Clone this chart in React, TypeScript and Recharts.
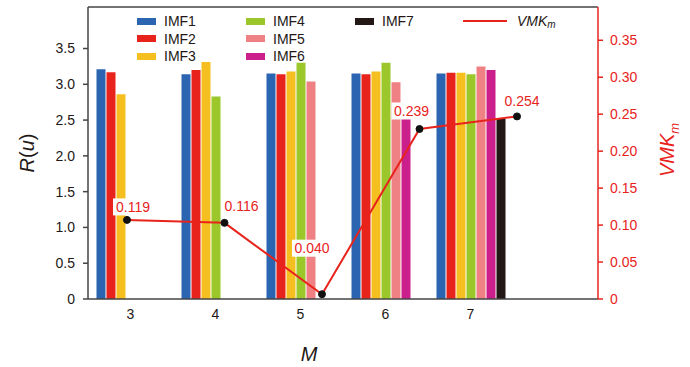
import React from "react";
import {
  ComposedChart,
  Bar,
  Line,
  XAxis,
  YAxis,
  Legend,
  LabelList,
  Label,
  ReferenceLine,
} from "recharts";

const categories = ["3", "4", "5", "6", "7"];
const imf1 = [3.21, 3.14, 3.15, 3.15, 3.15];
const imf2 = [3.17, 3.2, 3.14, 3.14, 3.16];
const imf3 = [2.86, 3.31, 3.18, 3.18, 3.16];
const imf4 = [null, 2.83, 3.3, 3.3, 3.14];
const imf5 = [null, null, 3.04, 3.03, 3.25];
const imf6 = [null, null, null, 2.53, 3.2];
const imf7 = [null, null, null, null, 2.52];
const vmk = [0.107, 0.103, 0.0065, 0.23, 0.247];
const vmkLabels = ["0.119", "0.116", "0.040", "0.239", "0.254"];

const leftTicks = [0, 0.5, 1, 1.5, 2, 2.5, 3, 3.5];
const rightTicks = [0, 0.05, 0.1, 0.15, 0.2, 0.25, 0.3, 0.35];

const series = [
  { key: "imf1", name: "IMF1", color: "#2b64b0", values: imf1 },
  { key: "imf2", name: "IMF2", color: "#e8231c", values: imf2 },
  { key: "imf3", name: "IMF3", color: "#f5c01f", values: imf3 },
  { key: "imf4", name: "IMF4", color: "#9cc72a", values: imf4 },
  { key: "imf5", name: "IMF5", color: "#ef8184", values: imf5 },
  { key: "imf6", name: "IMF6", color: "#cb1f8c", values: imf6 },
  { key: "imf7", name: "IMF7", color: "#231815", values: imf7 },
];

const data = categories.map((m, i) => {
  const row: any = { m, vmk: vmk[i], lbl: vmkLabels[i] };
  series.forEach((s) => (row[s.key] = s.values[i]));
  return row;
});

const RED = "#e8231c";
const AXIS = "#444";
const FONT = "'Liberation Sans', Arial, sans-serif";

// label box offsets from each point (dx, dy of the box centre)
const labelOffsets = [
  [6, -13],
  [17, -17],
  [-10, -46],
  [-8, -18],
  [5, -15],
];

const renderPointLabel = (props: any) => {
  const { x, y, value } = props;
  const i = vmkLabels.indexOf(value);
  const [dx, dy] = labelOffsets[i] || [0, -14];
  const cx = x + dx;
  const cy = y + dy;
  return (
    <g>
      <rect x={cx - 20} y={cy - 8.5} width={40} height={17} fill="#fff" />
      <text
        x={cx}
        y={cy + 5}
        textAnchor="middle"
        fontSize={14}
        fontFamily={FONT}
        fill={RED}
      >
        {value}
      </text>
    </g>
  );
};

const renderLegend = () => (
  <div style={{ position: "relative", width: 0, height: 0, fontFamily: FONT }}>
    {series.map((s, i) => {
      const col = Math.floor(i / 3);
      const row = i % 3;
      return (
        <div
          key={s.key}
          style={{
            position: "absolute",
            left: 137 + col * 109,
            top: 13 + row * 17.5,
            display: "flex",
            alignItems: "center",
            whiteSpace: "nowrap",
            fontSize: 14,
            color: "#231815",
          }}
        >
          <span
            style={{
              display: "inline-block",
              width: 19,
              height: 7,
              background: s.color,
              marginRight: 8,
            }}
          />
          {s.name}
        </div>
      );
    })}
    <div
      style={{
        position: "absolute",
        left: 463,
        top: 13,
        display: "flex",
        alignItems: "center",
        whiteSpace: "nowrap",
        fontSize: 14,
        color: "#231815",
      }}
    >
      <span
        style={{
          display: "inline-block",
          width: 44,
          height: 2,
          background: RED,
          marginRight: 10,
        }}
      />
      <i>VMK</i>
      <i style={{ fontSize: 10, verticalAlign: "sub", position: "relative", top: 3 }}>m</i>
    </div>
  </div>
);

export default function App() {
  return (
    <div style={{ position: "absolute", left: 0, top: 0, background: "#fff" }}>
      <ComposedChart
        width={690}
        height={367}
        data={data}
        margin={{ top: 7, right: 32, bottom: 38, left: 28 }}
        barCategoryGap="10%"
        barGap={1}
      >
        <XAxis
          dataKey="m"
          xAxisId="bars"
          padding={{ left: 0, right: 85 }}
          tickLine={false}
          axisLine={{ stroke: AXIS, strokeWidth: 1.5 }}
          tick={{ fill: "#231815", fontSize: 14, fontFamily: FONT }}
          tickSize={5}
          tickMargin={5}
          height={30}
        >
          <Label
            content={() => (
              <text
                x={309}
                y={361}
                textAnchor="middle"
                fontSize={20}
                fontStyle="italic"
                fontFamily={FONT}
                fill="#231815"
              >
                M
              </text>
            )}
          />
        </XAxis>
        <XAxis
          dataKey="m"
          xAxisId="line"
          scale="point"
          hide
          padding={{ left: 39, right: 81 }}
        />
        <YAxis
          yAxisId="left"
          width={60}
          domain={[0, 4.08]}
          ticks={leftTicks}
          allowDataOverflow
          tickFormatter={(v: number) => (v === 0 ? "0" : v.toFixed(1))}
          tick={{ fill: "#231815", fontSize: 14, fontFamily: FONT }}
          tickSize={5}
          tickMargin={8}
          axisLine={{ stroke: AXIS, strokeWidth: 1.5 }}
          tickLine={{ stroke: AXIS, strokeWidth: 1.5 }}
        >
          <Label
            content={() => (
              <text
                x={0}
                y={0}
                transform="translate(34 153) rotate(-90)"
                textAnchor="middle"
                fontSize={20}
                fontFamily={FONT}
                fill="#231815"
              >
                <tspan fontStyle="italic">R</tspan>(<tspan fontStyle="italic">u</tspan>)
              </text>
            )}
          />
        </YAxis>
        <YAxis
          yAxisId="right"
          orientation="right"
          width={60}
          domain={[0, 0.395]}
          ticks={rightTicks}
          allowDataOverflow
          tickFormatter={(v: number) => (v === 0 ? "0" : v.toFixed(2))}
          tick={{ fill: RED, fontSize: 14, fontFamily: FONT }}
          tickSize={5}
          tickMargin={7}
          axisLine={{ stroke: RED, strokeWidth: 1.5 }}
          tickLine={{ stroke: RED, strokeWidth: 1.5 }}
        >
          <Label
            content={() => (
              <text
                x={0}
                y={0}
                transform="translate(674 150) rotate(-90)"
                textAnchor="middle"
                fontSize={20}
                fontFamily={FONT}
                fill={RED}
                fontStyle="italic"
              >
                VMK
                <tspan fontSize={13} dy={5}>
                  m
                </tspan>
              </text>
            )}
          />
        </YAxis>
        <ReferenceLine
          yAxisId="left"
          xAxisId="bars"
          y={4.08}
          stroke={AXIS}
          strokeWidth={1.5}
        />
        <Legend verticalAlign="top" content={renderLegend} wrapperStyle={{ top: 0, left: 0, width: 0, height: 0 }} />
        {series.map((s) => (
          <Bar
            key={s.key}
            dataKey={s.key}
            name={s.name}
            xAxisId="bars"
            yAxisId="left"
            fill={s.color}
            isAnimationActive={false}
          />
        ))}
        <Line
          dataKey="vmk"
          name="VMKm"
          xAxisId="line"
          yAxisId="right"
          type="linear"
          stroke={RED}
          strokeWidth={2}
          dot={{ r: 3.5, fill: "#111", stroke: "#111", strokeWidth: 1 }}
          isAnimationActive={false}
        >
          <LabelList dataKey="lbl" content={renderPointLabel} />
        </Line>
      </ComposedChart>
    </div>
  );
}
